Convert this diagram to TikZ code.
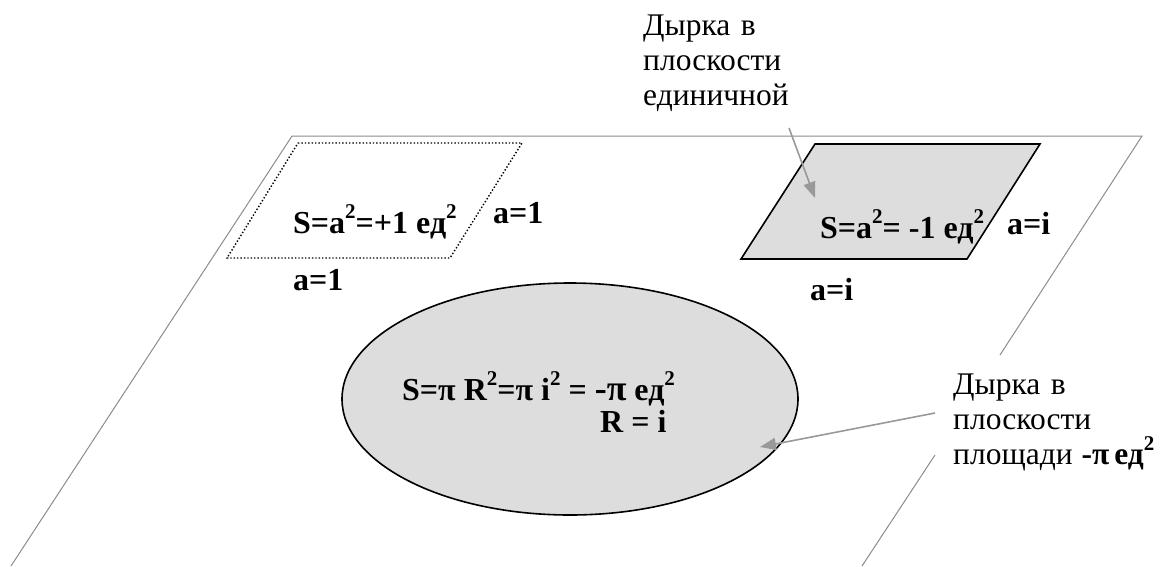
\documentclass[tikz,border=0pt]{standalone}
\usepackage{fontspec}
\setmainfont{Liberation Serif}
\usetikzlibrary{arrows.meta,shapes.geometric}
\definecolor{holefill}{HTML}{DDDDDD}
\definecolor{planeline}{HTML}{8C8C8C}
\definecolor{arrowgray}{HTML}{999999}
\newcommand\sqr{\raisebox{0.44em}{\fontsize{21}{21}\selectfont 2}}
\begin{document}
\begin{tikzpicture}[x=1pt,y=-1pt,
  blbl/.style={font=\fontsize{32}{35}\selectfont\bfseries, inner sep=0pt, anchor=base west},
  mlbl/.style={font=\fontsize{31.5}{35}\selectfont, inner sep=0pt, anchor=base west, text width=230pt, align=left},
  plane/.style={draw=planeline, line width=1pt},
  pointer/.style={draw=arrowgray, line width=1.6pt, -{Triangle[length=16pt,width=12pt]}},
  hole/.style={draw=black, line width=1.6pt, fill=holefill},
  unitsq/.style={draw=black, line width=1.4pt, dotted}
]
\useasboundingbox (0,0) rectangle (1160,566);

% the plane
\coordinate (p1) at (292,136);
\coordinate (p2) at (1142,136);
\coordinate (p3) at (11,566);
\coordinate (r1) at (1000,355);
\coordinate (r2) at (935,455);
\coordinate (p4) at (862,566);
\draw[plane] (p3) -- (p1) -- (p2) -- (r1);
\draw[plane] (r2) -- (p4);

% unit square (dotted)
\coordinate (u1) at (298,143);
\coordinate (u2) at (522,143);
\coordinate (u3) at (450,258);
\coordinate (u4) at (227,258);
\draw[unitsq] (u1) -- (u2) -- (u3) -- (u4) -- cycle;

% imaginary square (hole)
\coordinate (g1) at (815,144);
\coordinate (g2) at (1040,144);
\coordinate (g3) at (967,259);
\coordinate (g4) at (741,259);
\draw[hole, line join=miter] (g1) -- (g2) -- (g3) -- (g4) -- cycle;

% circular hole
\node[hole, ellipse, minimum width=456pt, minimum height=232pt, inner sep=0pt] (circ) at (570,399) {};

% texts
\node[blbl] (s1) at (293,233) {S=a\sqr=+1 ед\sqr};
\node[blbl] (a1r) at (493,223) {a=1};
\node[blbl] (a1b) at (293,290) {a=1};
\node[blbl] (s2) at (820,238) {S=a\sqr= -1 ед\sqr};
\node[blbl] (air) at (1007,234) {a=i};
\node[blbl] (aib) at (810,300) {a=i};
\node[blbl] (f1) at (402,400) {S=π R\sqr=π i\sqr{} = {\fontsize{36}{36}\selectfont -π} ед\sqr};
\node[blbl] (f2) at (600,432) {R = i};

\node[mlbl] (topnote) at (643,35) {Дырка в\\плоскости\\единичной};
\node[mlbl] (rightnote) at (953,394) {Дырка в\\плоскости\\площади\hspace{9pt}\textbf{-π\hspace{5pt}ед\sqr}};

% pointers
\coordinate (t1s) at (789,128);
\coordinate (t1e) at (815,198);
\coordinate (t2s) at (935,413);
\coordinate (t2e) at (760,447);
\draw[pointer] (t1s) -- (t1e);
\draw[pointer] (t2s) -- (t2e);
\end{tikzpicture}
\end{document}
